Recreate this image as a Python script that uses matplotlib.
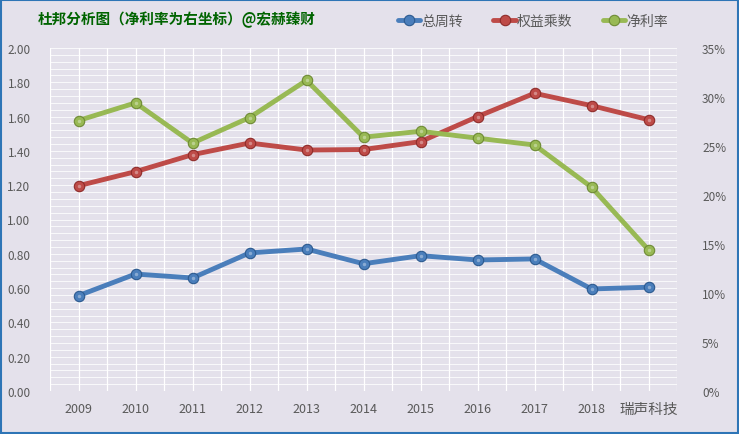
import numpy as np
import matplotlib.pyplot as plt
from matplotlib.ticker import MultipleLocator, FuncFormatter

plt.rcParams['font.family'] = ['Noto Sans CJK SC', 'DejaVu Sans']

categories = ['2009', '2010', '2011', '2012', '2013', '2014', '2015', '2016', '2017', '2018', '瑞声科技']
turnover = [0.556, 0.682, 0.659, 0.805, 0.828, 0.742, 0.789, 0.764, 0.770, 0.595, 0.605]
equity_mult = [1.197, 1.279, 1.378, 1.446, 1.405, 1.408, 1.454, 1.600, 1.736, 1.664, 1.582]
net_margin = [27.6, 29.4, 25.3, 27.9, 31.7, 25.9, 26.5, 25.8, 25.1, 20.8, 14.4]

bg = '#E4E1EB'
c_blue = '#4A7EBB'
c_red = '#BE4B48'
c_green = '#98B954'
edge = {c_blue: '#2C5A8F', c_red: '#8E2C2A', c_green: '#6E8A35'}
tick_col = '#595959'

fig = plt.figure(figsize=(7.39, 4.35), dpi=100, facecolor=bg)
ax = fig.add_axes([50 / 739, 43 / 435, 627 / 739, 343 / 435])
ax.set_facecolor(bg)
ax2 = ax.twinx()

x = np.arange(len(categories))

# grid
ax.set_xlim(-0.5, len(categories) - 0.5)
ax.set_ylim(0, 2.0)
for gx in np.arange(-0.5, len(categories), 0.5):
    ax.axvline(gx, color='white', lw=0.9, zorder=0)
for gy in np.arange(0, 2.001, 0.04):
    ax.axhline(gy, color='white', lw=0.7, alpha=0.8, zorder=0)

def series(a, vals, col, label):
    a.plot(x, vals, color=col, lw=3.5, zorder=3, solid_capstyle='round', label=label,
           marker='o', markersize=7.5, markerfacecolor=col, markeredgecolor=edge[col],
           markeredgewidth=0.8)
    a.plot(x, vals, ls='none', marker='o', markersize=2.5, markerfacecolor='white',
           markeredgecolor='none', alpha=0.35, zorder=4)

series(ax, turnover, c_blue, '总周转')
series(ax, equity_mult, c_red, '权益乘数')
ax2.set_ylim(0, 35)
series(ax2, net_margin, c_green, '净利率')

ax.set_xticks(x)
ax.set_xticklabels(categories)
ax.yaxis.set_major_locator(MultipleLocator(0.2))
ax.yaxis.set_major_formatter(FuncFormatter(lambda v, p: f'{v:.2f}'))
ax2.yaxis.set_major_locator(MultipleLocator(5))
ax2.yaxis.set_major_formatter(FuncFormatter(lambda v, p: f'{v:.0f}%'))

for a in (ax, ax2):
    for s in a.spines.values():
        s.set_visible(False)
    a.tick_params(length=0, colors=tick_col, labelsize=8.5)
ax.tick_params(axis='x', pad=8, labelsize=9)
ax.tick_params(axis='y', pad=14)
ax2.tick_params(axis='y', pad=18)
for lbl in ax.get_xticklabels():
    if lbl.get_text() == '瑞声科技':
        lbl.set_fontsize(10.5)

fig.text(38 / 739, 1 - 20 / 435, '杜邦分析图（净利率为右坐标）@宏赫臻财', color='#006400',
         fontsize=10.5, fontweight='bold', va='center', ha='left')

h1, l1 = ax.get_legend_handles_labels()
h2, l2 = ax2.get_legend_handles_labels()
fig.legend(h1 + h2, l1 + l2, loc='center', bbox_to_anchor=(533 / 739, 1 - 22 / 435),
           ncol=3, frameon=False, fontsize=10, handlelength=1.6, columnspacing=2.2,
           handletextpad=0.1, labelcolor=tick_col)

border = plt.Rectangle((0.001, 0.002), 0.997, 0.996, transform=fig.transFigure,
                       fill=False, edgecolor='#2E75B6', lw=1.5)
fig.patches.append(border)

fig.savefig('out.png', dpi=100, facecolor=bg)
